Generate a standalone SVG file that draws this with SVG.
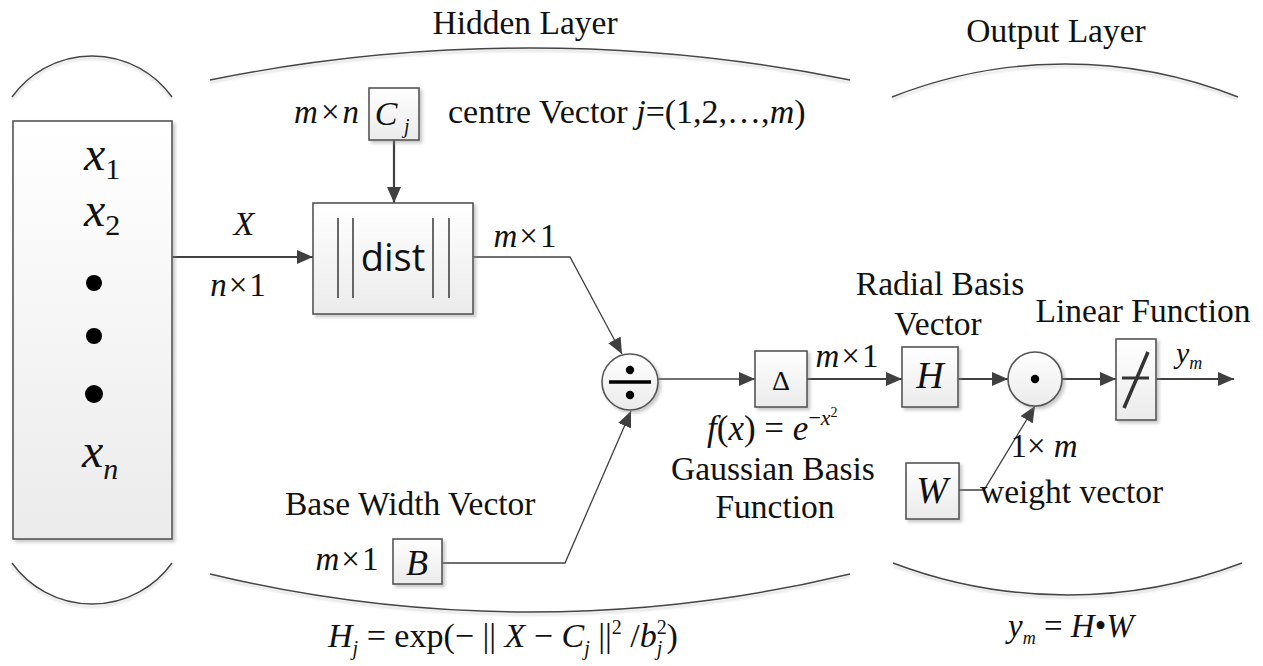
<svg xmlns="http://www.w3.org/2000/svg" width="1263" height="666" viewBox="0 0 1263 666">
<style>
.t{font-family:"Liberation Serif","Times New Roman",serif;fill:#111;}
.lbl{font-size:33.5px;}
.m{font-size:33px;}
.i{font-style:italic;}
.box{stroke:#555;stroke-width:1.6;fill:url(#g);filter:url(#sh);}
.arc{fill:none;stroke:#444;stroke-width:1.4;filter:url(#sh2);}
.ln{fill:none;stroke:#404040;stroke-width:2.2;}
.thin{fill:none;stroke:#404040;stroke-width:1.3;}
</style>
<defs>
<linearGradient id="g" x1="0" y1="0" x2="0" y2="1">
<stop offset="0" stop-color="#ffffff"/>
<stop offset="1" stop-color="#ebebeb"/>
</linearGradient>
<filter id="sh" x="-10%" y="-10%" width="130%" height="130%">
<feDropShadow dx="2.5" dy="2.5" stdDeviation="1.5" flood-color="#888" flood-opacity="0.45"/>
</filter>
<filter id="sh2" x="-5%" y="-50%" width="110%" height="200%">
<feDropShadow dx="0" dy="2.5" stdDeviation="1.2" flood-color="#999" flood-opacity="0.45"/>
</filter>
<marker id="ah" markerUnits="userSpaceOnUse" markerWidth="17" markerHeight="14" refX="16" refY="7" orient="auto">
<path d="M0,0 L16,7 L0,14 z" fill="#404040"/>
</marker>
</defs>

<g id="layer-arcs">
<path class="arc" d="M12,97 A98.5,98.5 0 0 1 172,97"/>
<path class="arc" d="M12,563 A98.5,98.5 0 0 0 172,563"/>
<path class="arc" d="M210,80 A1616,1616 0 0 1 850,80"/>
<path class="arc" d="M210,574 A1366,1366 0 0 0 850,574"/>
<path class="arc" d="M892,97 A470,470 0 0 1 1238,97"/>
<path class="arc" d="M893,563 A492,492 0 0 0 1242,563"/>
<text class="t lbl" x="525" y="34" text-anchor="middle">Hidden Layer</text>
<text class="t lbl" x="1056" y="42" text-anchor="middle">Output Layer</text>
</g>

<g id="connectors">
<path class="ln" d="M172,257 L313,257" marker-end="url(#ah)"/>
<path class="ln" d="M394,140 L394,203" marker-end="url(#ah)"/>
<path class="thin" d="M473,257 L570,257 L622,354" marker-end="url(#ah)"/>
<path class="thin" d="M442,563 L565,563 L631,411" marker-end="url(#ah)"/>
<path class="thin" d="M658,379 L755,379" marker-end="url(#ah)"/>
<path class="ln" d="M807,379 L902,379" marker-end="url(#ah)"/>
<path class="ln" d="M958,379 L1008,379" marker-end="url(#ah)"/>
<path class="ln" d="M1062,379 L1116,379" marker-end="url(#ah)"/>
<path class="ln" d="M1156,379 L1234,379" marker-end="url(#ah)"/>
<path class="thin" d="M959,490 L984,490 L1035,406" marker-end="url(#ah)"/>
</g>

<g id="input">
<rect class="box" x="13" y="121" width="159" height="418"/>
<text class="t i" x="84" y="170" font-size="48">x<tspan font-style="normal" font-size="30" dy="9">1</tspan></text>
<text class="t i" x="84" y="226" font-size="48">x<tspan font-style="normal" font-size="30" dy="9">2</tspan></text>
<circle cx="94" cy="283" r="8" fill="#000"/>
<circle cx="94" cy="336" r="8" fill="#000"/>
<circle cx="94" cy="394" r="9" fill="#000"/>
<text class="t i" x="82" y="467" font-size="48">x<tspan font-size="30" dy="12">n</tspan></text>
<text class="t i" x="244" y="235" font-size="34" text-anchor="middle">X</text>
<text class="t m" x="238" y="296" text-anchor="middle"><tspan class="i">n</tspan><tspan dx="2">×</tspan><tspan dx="2">1</tspan></text>
</g>

<g id="centre">
<rect class="box" x="369" y="88" width="50" height="52"/>
<text class="t i" x="386" y="125" font-size="34" text-anchor="middle">C</text>
<text class="t i" x="404" y="133" font-size="20">j</text>
<text class="t m" x="359" y="123" text-anchor="end"><tspan class="i">m</tspan><tspan dx="3">×</tspan><tspan class="i" dx="3">n</tspan></text>
<text class="t" x="448" y="123" font-size="34">centre Vector <tspan class="i">j</tspan>=(1,2,…,<tspan class="i">m</tspan>)</text>
</g>

<g id="dist">
<rect class="box" x="313" y="203" width="160" height="111"/>
<path d="M338,218 V298 M353,218 V298 M433,218 V298 M449,218 V298" stroke="#444" stroke-width="1.6"/>
<text x="393" y="271" font-family="'Open Sans','DejaVu Sans',sans-serif" font-size="38" text-anchor="middle" fill="#111">dist</text>
<text class="t m" x="525" y="247" text-anchor="middle"><tspan class="i">m</tspan><tspan dx="2">×</tspan><tspan dx="2">1</tspan></text>
</g>

<g id="divide">
<circle cx="630" cy="382" r="28" fill="url(#g)" stroke="#555" stroke-width="1.6" filter="url(#sh)"/>
<circle cx="630" cy="370" r="4.2" fill="#000"/>
<circle cx="630" cy="395" r="4.2" fill="#000"/>
<path d="M609,382 H651" stroke="#000" stroke-width="3.5"/>
</g>

<g id="base-width">
<text class="t lbl" x="285" y="515">Base Width Vector</text>
<rect class="box" x="393" y="539" width="49" height="45"/>
<text class="t i" x="417" y="575" font-size="36" text-anchor="middle">B</text>
<text class="t m" x="347" y="570" text-anchor="middle"><tspan class="i">m</tspan><tspan dx="2">×</tspan><tspan dx="2">1</tspan></text>
</g>

<g id="gaussian">
<rect class="box" x="755" y="351" width="52" height="56"/>
<text class="t" x="781" y="390" font-size="28" text-anchor="middle">Δ</text>
<text class="t m" x="847" y="367" text-anchor="middle"><tspan class="i">m</tspan><tspan dx="2">×</tspan><tspan dx="2">1</tspan></text>
<text class="t" x="707" y="440" font-size="35"><tspan class="i">f</tspan>(<tspan class="i">x</tspan>) = <tspan class="i">e</tspan><tspan font-size="22" dy="-15">−</tspan><tspan class="i" font-size="22">x</tspan><tspan font-size="14" dy="-8">2</tspan></text>
<text class="t lbl" x="773" y="480" text-anchor="middle">Gaussian Basis</text>
<text class="t lbl" x="775" y="518" text-anchor="middle">Function</text>
</g>

<g id="rbf-vector">
<text class="t lbl" x="940" y="295" text-anchor="middle">Radial Basis</text>
<text class="t lbl" x="938" y="335" text-anchor="middle">Vector</text>
<rect class="box" x="902" y="347" width="56" height="60"/>
<text class="t i" x="930" y="388" font-size="38" text-anchor="middle">H</text>
</g>

<g id="dot-product">
<circle cx="1035" cy="379" r="27" fill="url(#g)" stroke="#555" stroke-width="1.6" filter="url(#sh)"/>
<circle cx="1035" cy="379" r="4.2" fill="#000"/>
</g>

<g id="weight">
<rect class="box" x="906" y="463" width="53" height="56"/>
<text class="t i" x="932" y="503" font-size="38" text-anchor="middle">W</text>
<text class="t m" x="1044" y="457" text-anchor="middle">1× <tspan class="i">m</tspan></text>
<text class="t lbl" x="980" y="503">weight vector</text>
</g>

<g id="linear">
<text class="t lbl" x="1143" y="322" text-anchor="middle">Linear Function</text>
<rect class="box" x="1116" y="339" width="40" height="81"/>
<path d="M1122,378 H1149" stroke="#333" stroke-width="3"/>
<path d="M1124,408 L1148,352" stroke="#333" stroke-width="3.5"/>
<text class="t i" x="1176" y="363" font-size="30">y<tspan font-size="18" dy="6">m</tspan></text>
</g>

<g id="formulas">
<text class="t" x="328" y="647" font-size="34"><tspan class="i">H</tspan><tspan class="i" font-size="20" dy="8">j</tspan><tspan dy="-8"> = exp(− || </tspan><tspan class="i">X</tspan><tspan> − </tspan><tspan class="i">C</tspan><tspan class="i" font-size="20" dy="8">j</tspan><tspan dy="-8"> ||</tspan><tspan font-size="20" dy="-13">2</tspan><tspan dy="13"> /</tspan><tspan class="i">b</tspan><tspan font-size="20" dy="-13">2</tspan><tspan class="i" font-size="20" dx="-10" dy="21">j</tspan><tspan dx="4" dy="-8">)</tspan></text>
<text class="t" x="1008" y="637" font-size="33"><tspan class="i">y</tspan><tspan class="i" font-size="18" dy="7">m</tspan><tspan dy="-7"> = </tspan><tspan class="i">H</tspan><tspan>•</tspan><tspan class="i">W</tspan></text>
</g>
</svg>
